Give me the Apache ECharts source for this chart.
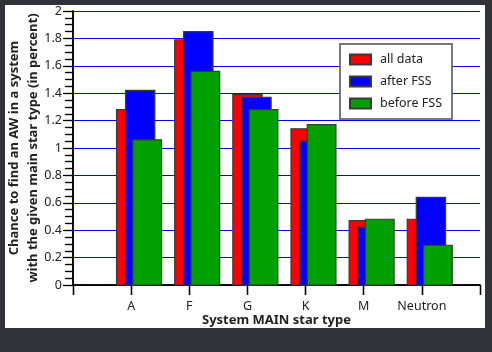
<!DOCTYPE html>
<html>
<head>
<meta charset="utf-8">
<script src="https://cdn.jsdelivr.net/npm/echarts@6/dist/echarts.min.js"></script>
<style>
  html, body { margin: 0; padding: 0; background: #303438; }
  #chart { position: absolute; left: 5px; top: 5px; width: 480px; height: 323px; background: #fff; }
</style>
</head>
<body>
<div id="chart"></div>
<script>
// star types, placed at x = 1..6 on a 0..7 axis
const categories = ["A", "F", "G", "K", "M", "Neutron"];
const allData = [1.28, 1.79, 1.39, 1.14, 0.47, 0.48];
const afterFSS = [1.42, 1.85, 1.37, 1.05, 0.42, 0.64];
const beforeFSS = [1.06, 1.56, 1.28, 1.17, 0.48, 0.29];
const yTicks = [0, 0.2, 0.4, 0.6, 0.8, 1, 1.2, 1.4, 1.6, 1.8, 2];

const fontFamily = "'Noto Sans', 'Open Sans', sans-serif";

// pixel offsets of each bar relative to the category tick
function barSeries(name, values, color, offset, width) {
  return {
    name: name,
    type: "custom",
    itemStyle: { color: color, borderColor: "#3a3a3a", borderWidth: 1 },
    renderItem: function (params, api) {
      const top = api.coord([api.value(0), api.value(1)]);
      const base = api.coord([api.value(0), 0]);
      return {
        type: "rect",
        shape: { x: top[0] + offset, y: top[1], width: width, height: base[1] - top[1] },
        style: { fill: color, stroke: "#3a3a3a", lineWidth: 1.2 },
      };
    },
    data: values.map((v, i) => [i + 1, v]),
  };
}

const chart = echarts.init(document.getElementById("chart"));
chart.setOption({
  animation: false,
  textStyle: { fontFamily: fontFamily },
  grid: { left: 68, right: 5, top: 6, bottom: 43, outerBoundsMode: "none", containLabel: false },
  legend: {
    orient: "vertical",
    left: 335,
    top: 39,
    icon: "rect",
    itemWidth: 21,
    itemHeight: 10,
    itemGap: 9,
    padding: [9, 10, 9, 9],
    backgroundColor: "#fff",
    borderColor: "#777",
    borderWidth: 2,
    borderRadius: 0,
    textStyle: { fontSize: 12.5, color: "#222", fontFamily: fontFamily, padding: [0, 0, 0, 4] },
    data: ["all data", "after FSS", "before FSS"],
  },
  xAxis: [
    {
      type: "value",
      min: 0,
      max: 7,
      interval: 1,
      name: "System MAIN star type",
      nameLocation: "middle",
      nameGap: 29,
      nameMoveOverlap: false,
      nameTextStyle: { fontSize: 13, fontWeight: "bold", color: "#222", fontFamily: fontFamily },
      axisLine: { lineStyle: { color: "#000", width: 1.5 } },
      axisTick: { show: true, inside: false, length: 10, lineStyle: { color: "#000", width: 1.3 } },
      axisLabel: {
        margin: 15,
        fontSize: 12.5,
        color: "#222",
        formatter: (v) => categories[v - 1] || "",
      },
      splitLine: { show: false },
    },
    {
      type: "value",
      position: "top",
      min: 0,
      max: 7,
      interval: 1,
      axisLine: { show: true, lineStyle: { color: "#000", width: 1.5 } },
      axisTick: { show: true, inside: true, length: 10, lineStyle: { color: "#000", width: 1.3 } },
      axisLabel: { show: false },
      splitLine: { show: false },
    },
  ],
  yAxis: [
    {
      type: "value",
      min: 0,
      max: 2,
      interval: 0.2,
      name: "Chance to find an AW in a system\nwith the given main star type (in percent)",
      nameLocation: "middle",
      nameGap: 30,
      nameMoveOverlap: false,
      nameTextStyle: { fontSize: 13, fontWeight: "bold", color: "#222", lineHeight: 19, fontFamily: fontFamily },
      axisLine: { show: true, lineStyle: { color: "#000", width: 1.5 } },
      axisTick: { show: true, inside: false, length: 8, lineStyle: { color: "#000", width: 1.2 } },
      minorTick: { show: true, splitNumber: 4, length: 8, lineStyle: { color: "#000", width: 1.2 } },
      axisLabel: {
        margin: 11,
        fontSize: 12.5,
        color: "#222",
        formatter: (v) => {
          const t = yTicks.find((y) => Math.abs(y - v) < 1e-6);
          return t === undefined ? "" : String(t);
        },
      },
      splitLine: { show: true, lineStyle: { color: "#0000ff", width: 1.2 } },
    },
    {
      type: "value",
      position: "right",
      min: 0,
      max: 2,
      interval: 0.2,
      axisLine: { show: true, lineStyle: { color: "#000", width: 1.5 } },
      axisTick: { show: true, inside: true, length: 10, lineStyle: { color: "#000", width: 1.2 } },
      minorTick: { show: true, splitNumber: 4, length: 7, lineStyle: { color: "#000", width: 1.2 } },
      axisLabel: { show: false },
      splitLine: { show: false },
    },
  ],
  series: [
    barSeries("all data", allData, "#ff0000", -14.6, 29.3),
    barSeries("after FSS", afterFSS, "#0000ff", -5.6, 29.3),
    barSeries("before FSS", beforeFSS, "#00a000", 1.7, 28.7),
  ],
});
</script>
</body>
</html>
